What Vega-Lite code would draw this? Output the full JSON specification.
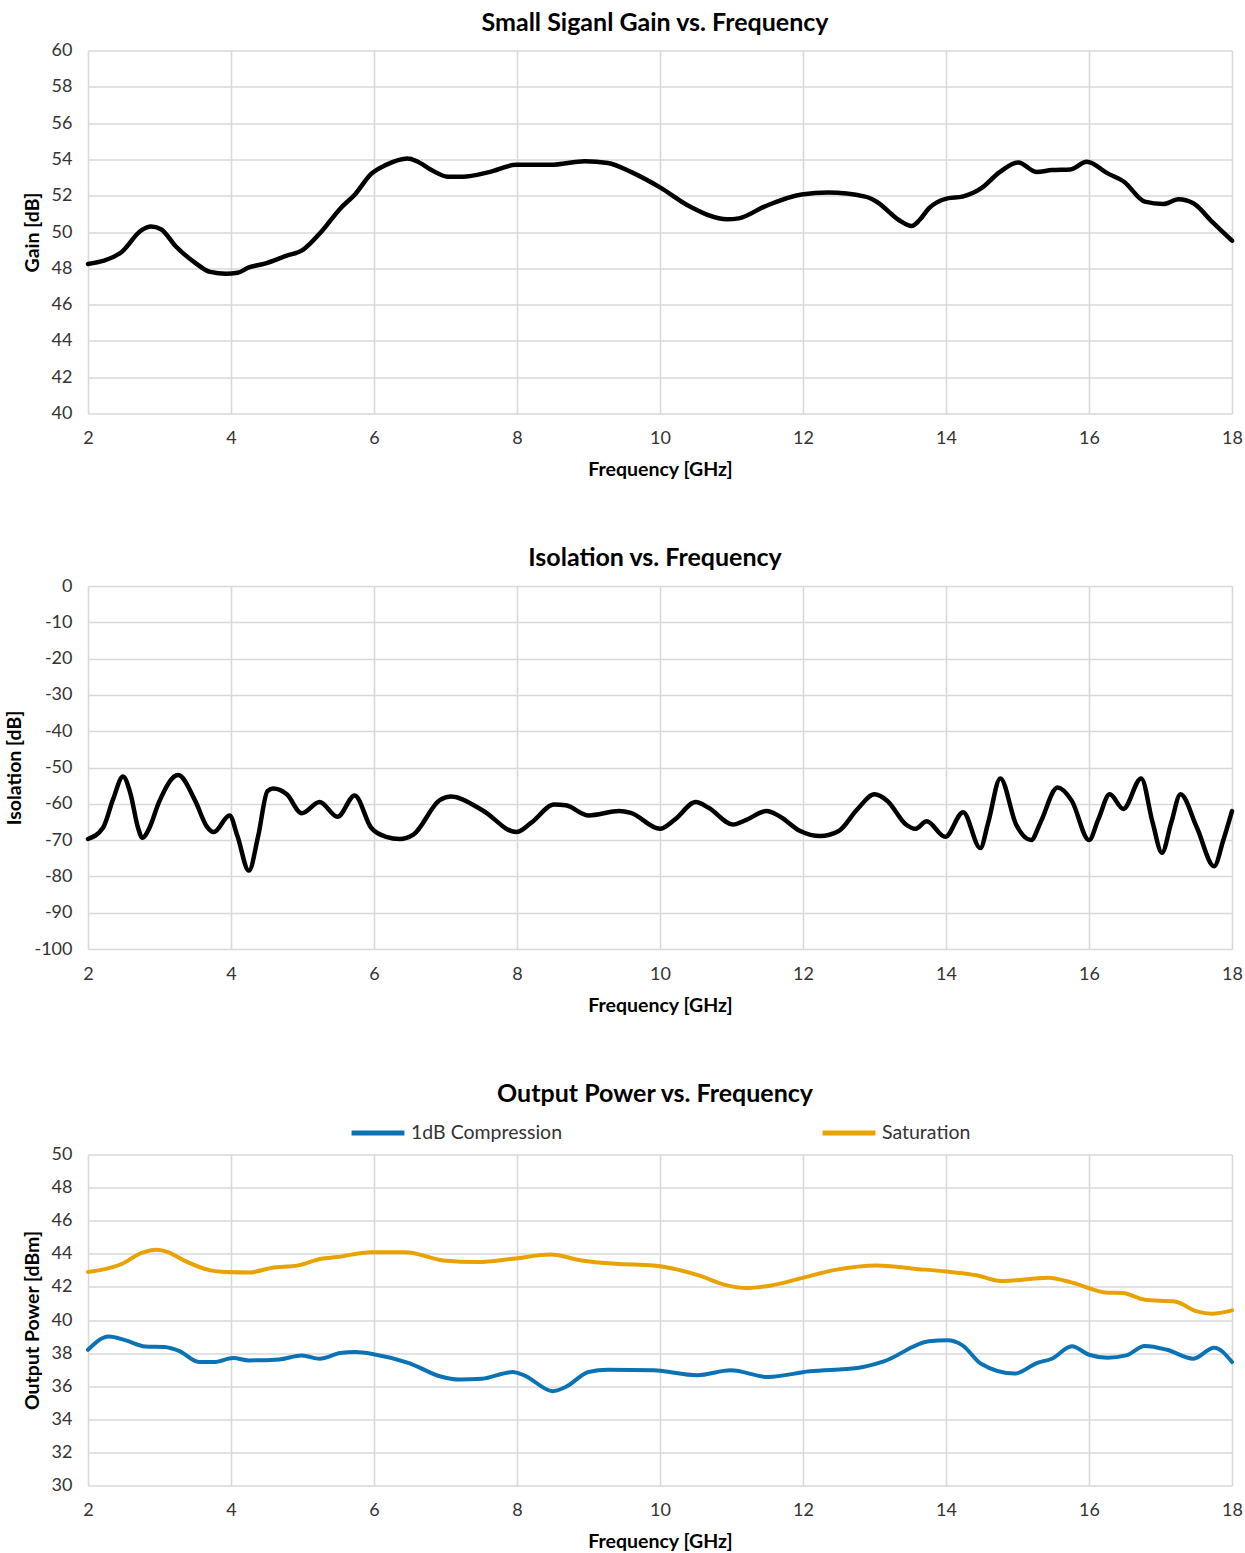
{
  "$schema": "https://vega.github.io/schema/vega-lite/v6.json",
  "background": "white",
  "padding": {"left": 4, "top": 10.5, "right": 10, "bottom": 8},
  "config": {
    "font": "Lato",
    "view": {"stroke": null},
    "axis": {
      "domain": false,
      "ticks": false,
      "grid": true,
      "gridColor": "#d9d9d9",
      "gridWidth": 1.6,
      "labelFont": "Lato",
      "labelFontSize": 18,
      "labelColor": "#333333",
      "labelFlush": false,
      "titleFont": "Lato",
      "titleFontSize": 19.5,
      "titleFontWeight": "bold",
      "titleColor": "#000000"
    },
    "axisX": {"labelPadding": 16, "titlePadding": 13},
    "axisY": {"labelPadding": 16, "titlePadding": 9},
    "title": {"font": "Lato", "fontSize": 25, "fontWeight": "bold", "color": "#000000", "frame": "group", "anchor": "middle", "offset": 6, "dx": -5},
    "concat": {"spacing": 66.5}
  },
  "resolve": {"legend": {"color": "independent"}},
  "datasets": {
    "gain": [
      {"f": 2.0, "v": 48.24}, {"f": 2.45, "v": 48.83}, {"f": 2.75, "v": 50.1}, {"f": 2.88, "v": 50.3},
      {"f": 3.02, "v": 50.15}, {"f": 3.23, "v": 49.2}, {"f": 3.5, "v": 48.3}, {"f": 3.71, "v": 47.8},
      {"f": 3.93, "v": 47.7}, {"f": 4.09, "v": 47.75}, {"f": 4.25, "v": 48.05}, {"f": 4.46, "v": 48.24},
      {"f": 4.78, "v": 48.7}, {"f": 5.0, "v": 49.0}, {"f": 5.26, "v": 50.0}, {"f": 5.53, "v": 51.3},
      {"f": 5.74, "v": 52.1}, {"f": 5.96, "v": 53.2}, {"f": 6.17, "v": 53.7}, {"f": 6.47, "v": 54.05},
      {"f": 6.6, "v": 53.9}, {"f": 6.81, "v": 53.4}, {"f": 7.03, "v": 53.05}, {"f": 7.24, "v": 53.05},
      {"f": 7.61, "v": 53.3}, {"f": 7.99, "v": 53.7}, {"f": 8.47, "v": 53.7}, {"f": 8.95, "v": 53.9},
      {"f": 9.27, "v": 53.8}, {"f": 9.6, "v": 53.3}, {"f": 10.0, "v": 52.46}, {"f": 10.42, "v": 51.4},
      {"f": 10.94, "v": 50.7}, {"f": 11.1, "v": 50.75}, {"f": 11.46, "v": 51.4}, {"f": 11.98, "v": 52.07},
      {"f": 12.35, "v": 52.17}, {"f": 12.87, "v": 51.95}, {"f": 13.03, "v": 51.67}, {"f": 13.34, "v": 50.66},
      {"f": 13.52, "v": 50.33}, {"f": 13.63, "v": 50.66}, {"f": 13.76, "v": 51.3}, {"f": 14.02, "v": 51.85},
      {"f": 14.23, "v": 51.95}, {"f": 14.49, "v": 52.4}, {"f": 14.75, "v": 53.3}, {"f": 15.01, "v": 53.83},
      {"f": 15.27, "v": 53.3}, {"f": 15.48, "v": 53.41}, {"f": 15.74, "v": 53.45}, {"f": 15.97, "v": 53.87},
      {"f": 16.26, "v": 53.23}, {"f": 16.49, "v": 52.77}, {"f": 16.78, "v": 51.67}, {"f": 17.04, "v": 51.54},
      {"f": 17.25, "v": 51.8}, {"f": 17.46, "v": 51.58}, {"f": 17.72, "v": 50.57}, {"f": 18.0, "v": 49.52}
    ],
    "isolation": [
      {"f": 2.0, "v": -69.7}, {"f": 2.21, "v": -66.6}, {"f": 2.35, "v": -58.8}, {"f": 2.49, "v": -52.5},
      {"f": 2.59, "v": -56.9}, {"f": 2.7, "v": -66.6}, {"f": 2.76, "v": -69.4}, {"f": 2.86, "v": -66.6},
      {"f": 2.99, "v": -59.7}, {"f": 3.26, "v": -52.1}, {"f": 3.5, "v": -59.2}, {"f": 3.66, "v": -66.2},
      {"f": 3.76, "v": -67.8}, {"f": 3.98, "v": -63.2}, {"f": 4.09, "v": -68.9}, {"f": 4.25, "v": -78.4},
      {"f": 4.38, "v": -68.9}, {"f": 4.51, "v": -56.5}, {"f": 4.59, "v": -55.8}, {"f": 4.78, "v": -57.4},
      {"f": 4.99, "v": -62.6}, {"f": 5.24, "v": -59.5}, {"f": 5.49, "v": -63.6}, {"f": 5.73, "v": -57.7},
      {"f": 5.96, "v": -66.6}, {"f": 6.17, "v": -69.1}, {"f": 6.36, "v": -69.7}, {"f": 6.55, "v": -68.5},
      {"f": 6.92, "v": -59.0}, {"f": 7.08, "v": -58.0}, {"f": 7.51, "v": -61.7}, {"f": 7.99, "v": -67.8},
      {"f": 8.2, "v": -65.2}, {"f": 8.52, "v": -60.2}, {"f": 8.68, "v": -60.4}, {"f": 9.0, "v": -63.2},
      {"f": 9.43, "v": -62.0}, {"f": 9.59, "v": -62.5}, {"f": 10.0, "v": -66.9}, {"f": 10.21, "v": -64.3},
      {"f": 10.5, "v": -59.5}, {"f": 10.68, "v": -61.1}, {"f": 11.02, "v": -65.7}, {"f": 11.2, "v": -64.5},
      {"f": 11.49, "v": -62.0}, {"f": 11.67, "v": -63.4}, {"f": 11.96, "v": -67.5}, {"f": 12.24, "v": -68.9},
      {"f": 12.5, "v": -67.5}, {"f": 12.76, "v": -61.5}, {"f": 13.0, "v": -57.4}, {"f": 13.18, "v": -59.2},
      {"f": 13.44, "v": -65.7}, {"f": 13.57, "v": -66.9}, {"f": 13.73, "v": -64.8}, {"f": 13.99, "v": -69.1},
      {"f": 14.24, "v": -62.3}, {"f": 14.48, "v": -72.2}, {"f": 14.59, "v": -65.2}, {"f": 14.76, "v": -53.0},
      {"f": 14.98, "v": -65.7}, {"f": 15.19, "v": -70.0}, {"f": 15.32, "v": -65.2}, {"f": 15.56, "v": -55.5},
      {"f": 15.76, "v": -59.2}, {"f": 16.0, "v": -70.0}, {"f": 16.13, "v": -64.3}, {"f": 16.29, "v": -57.4},
      {"f": 16.48, "v": -61.4}, {"f": 16.73, "v": -53.0}, {"f": 16.89, "v": -65.2}, {"f": 17.02, "v": -73.5},
      {"f": 17.15, "v": -65.2}, {"f": 17.28, "v": -57.4}, {"f": 17.51, "v": -66.6}, {"f": 17.75, "v": -77.2},
      {"f": 17.88, "v": -69.9}, {"f": 18.0, "v": -62.0}
    ],
    "power": [
      {"series": "1dB Compression", "f": 2.0, "v": 38.2}, {"series": "1dB Compression", "f": 2.29, "v": 39.0},
      {"series": "1dB Compression", "f": 2.53, "v": 38.77}, {"series": "1dB Compression", "f": 2.8, "v": 38.4},
      {"series": "1dB Compression", "f": 3.07, "v": 38.37}, {"series": "1dB Compression", "f": 3.28, "v": 38.12},
      {"series": "1dB Compression", "f": 3.55, "v": 37.46}, {"series": "1dB Compression", "f": 3.76, "v": 37.46},
      {"series": "1dB Compression", "f": 4.03, "v": 37.7}, {"series": "1dB Compression", "f": 4.25, "v": 37.56},
      {"series": "1dB Compression", "f": 4.67, "v": 37.62}, {"series": "1dB Compression", "f": 4.99, "v": 37.86},
      {"series": "1dB Compression", "f": 5.24, "v": 37.66}, {"series": "1dB Compression", "f": 5.53, "v": 38.0},
      {"series": "1dB Compression", "f": 5.74, "v": 38.06}, {"series": "1dB Compression", "f": 6.01, "v": 37.92},
      {"series": "1dB Compression", "f": 6.49, "v": 37.4}, {"series": "1dB Compression", "f": 6.92, "v": 36.6},
      {"series": "1dB Compression", "f": 7.19, "v": 36.4}, {"series": "1dB Compression", "f": 7.51, "v": 36.45},
      {"series": "1dB Compression", "f": 7.94, "v": 36.86}, {"series": "1dB Compression", "f": 8.1, "v": 36.66},
      {"series": "1dB Compression", "f": 8.5, "v": 35.7}, {"series": "1dB Compression", "f": 8.68, "v": 35.95},
      {"series": "1dB Compression", "f": 9.0, "v": 36.86}, {"series": "1dB Compression", "f": 9.27, "v": 37.0},
      {"series": "1dB Compression", "f": 9.91, "v": 36.96}, {"series": "1dB Compression", "f": 10.52, "v": 36.66},
      {"series": "1dB Compression", "f": 10.99, "v": 36.96}, {"series": "1dB Compression", "f": 11.51, "v": 36.56},
      {"series": "1dB Compression", "f": 12.09, "v": 36.9}, {"series": "1dB Compression", "f": 12.76, "v": 37.1},
      {"series": "1dB Compression", "f": 13.13, "v": 37.5}, {"series": "1dB Compression", "f": 13.76, "v": 38.71},
      {"series": "1dB Compression", "f": 14.02, "v": 38.77}, {"series": "1dB Compression", "f": 14.23, "v": 38.47},
      {"series": "1dB Compression", "f": 14.49, "v": 37.36}, {"series": "1dB Compression", "f": 14.96, "v": 36.76},
      {"series": "1dB Compression", "f": 15.27, "v": 37.4}, {"series": "1dB Compression", "f": 15.48, "v": 37.66},
      {"series": "1dB Compression", "f": 15.76, "v": 38.41}, {"series": "1dB Compression", "f": 16.0, "v": 37.9},
      {"series": "1dB Compression", "f": 16.26, "v": 37.72}, {"series": "1dB Compression", "f": 16.52, "v": 37.86},
      {"series": "1dB Compression", "f": 16.78, "v": 38.43}, {"series": "1dB Compression", "f": 17.09, "v": 38.2},
      {"series": "1dB Compression", "f": 17.46, "v": 37.66}, {"series": "1dB Compression", "f": 17.75, "v": 38.33},
      {"series": "1dB Compression", "f": 18.0, "v": 37.46},
      {"series": "Saturation", "f": 2.0, "v": 42.9}, {"series": "Saturation", "f": 2.48, "v": 43.4},
      {"series": "Saturation", "f": 2.75, "v": 44.05}, {"series": "Saturation", "f": 2.96, "v": 44.25},
      {"series": "Saturation", "f": 3.12, "v": 44.1}, {"series": "Saturation", "f": 3.34, "v": 43.6},
      {"series": "Saturation", "f": 3.71, "v": 43.0}, {"series": "Saturation", "f": 3.93, "v": 42.9},
      {"series": "Saturation", "f": 4.25, "v": 42.87}, {"series": "Saturation", "f": 4.57, "v": 43.15},
      {"series": "Saturation", "f": 4.94, "v": 43.3}, {"series": "Saturation", "f": 5.26, "v": 43.7},
      {"series": "Saturation", "f": 5.48, "v": 43.8}, {"series": "Saturation", "f": 5.96, "v": 44.1},
      {"series": "Saturation", "f": 6.44, "v": 44.1}, {"series": "Saturation", "f": 6.97, "v": 43.6},
      {"series": "Saturation", "f": 7.45, "v": 43.5}, {"series": "Saturation", "f": 7.94, "v": 43.7},
      {"series": "Saturation", "f": 8.47, "v": 43.96}, {"series": "Saturation", "f": 8.9, "v": 43.6},
      {"series": "Saturation", "f": 9.38, "v": 43.4}, {"series": "Saturation", "f": 9.91, "v": 43.3},
      {"series": "Saturation", "f": 10.52, "v": 42.73}, {"series": "Saturation", "f": 10.94, "v": 42.09},
      {"series": "Saturation", "f": 11.2, "v": 41.93}, {"series": "Saturation", "f": 11.56, "v": 42.09},
      {"series": "Saturation", "f": 11.98, "v": 42.53}, {"series": "Saturation", "f": 12.45, "v": 43.03},
      {"series": "Saturation", "f": 13.03, "v": 43.3}, {"series": "Saturation", "f": 13.55, "v": 43.1},
      {"series": "Saturation", "f": 14.0, "v": 42.93}, {"series": "Saturation", "f": 14.43, "v": 42.7},
      {"series": "Saturation", "f": 14.77, "v": 42.35}, {"series": "Saturation", "f": 15.43, "v": 42.55},
      {"series": "Saturation", "f": 15.74, "v": 42.29}, {"series": "Saturation", "f": 16.26, "v": 41.65},
      {"series": "Saturation", "f": 16.47, "v": 41.63}, {"series": "Saturation", "f": 16.78, "v": 41.22},
      {"series": "Saturation", "f": 17.2, "v": 41.12}, {"series": "Saturation", "f": 17.51, "v": 40.52},
      {"series": "Saturation", "f": 17.72, "v": 40.38}, {"series": "Saturation", "f": 18.0, "v": 40.58}
    ]
  },
  "vconcat": [
    {
      "title": "Small Siganl Gain vs. Frequency",
      "width": 1144,
      "height": 363,
      "data": {"name": "gain"},
      "mark": {"type": "line", "interpolate": "monotone", "color": "#000000", "strokeWidth": 4.5, "strokeCap": "round", "strokeJoin": "round"},
      "encoding": {
        "x": {"field": "f", "type": "quantitative", "title": "Frequency [GHz]", "scale": {"domain": [2, 18], "nice": false}, "axis": {"values": [2, 4, 6, 8, 10, 12, 14, 16, 18]}},
        "y": {"field": "v", "type": "quantitative", "title": "Gain [dB]", "scale": {"domain": [40, 60], "nice": false, "zero": false}, "axis": {"values": [40, 42, 44, 46, 48, 50, 52, 54, 56, 58, 60]}}
      }
    },
    {
      "title": "Isolation vs. Frequency",
      "width": 1144,
      "height": 363,
      "data": {"name": "isolation"},
      "mark": {"type": "line", "interpolate": "monotone", "color": "#000000", "strokeWidth": 4.5, "strokeCap": "round", "strokeJoin": "round"},
      "encoding": {
        "x": {"field": "f", "type": "quantitative", "title": "Frequency [GHz]", "scale": {"domain": [2, 18], "nice": false}, "axis": {"values": [2, 4, 6, 8, 10, 12, 14, 16, 18]}},
        "y": {"field": "v", "type": "quantitative", "title": "Isolation [dB]", "scale": {"domain": [-100, 0], "nice": false}, "axis": {"values": [-100, -90, -80, -70, -60, -50, -40, -30, -20, -10, 0], "labelExpr": "'' + datum.value"}}
      }
    },
    {
      "title": {"text": "Output Power vs. Frequency", "offset": -3},
      "width": 1144,
      "height": 331,
      "data": {"name": "power"},
      "mark": {"type": "line", "interpolate": "monotone", "strokeWidth": 4, "strokeCap": "round", "strokeJoin": "round"},
      "encoding": {
        "x": {"field": "f", "type": "quantitative", "title": "Frequency [GHz]", "scale": {"domain": [2, 18], "nice": false}, "axis": {"values": [2, 4, 6, 8, 10, 12, 14, 16, 18]}},
        "y": {"field": "v", "type": "quantitative", "title": "Output Power [dBm]", "scale": {"domain": [30, 50], "nice": false, "zero": false}, "axis": {"values": [30, 32, 34, 36, 38, 40, 42, 44, 46, 48, 50]}},
        "color": {
          "field": "series",
          "type": "nominal",
          "scale": {"domain": ["1dB Compression", "Saturation"], "range": ["#0a72b5", "#e8a202"]},
          "legend": {
            "title": null,
            "orient": "none",
            "direction": "horizontal",
            "legendX": 261,
            "legendY": -50.5,
            "symbolType": "stroke",
            "symbolSize": 2800,
            "symbolStrokeWidth": 5,
            "labelFont": "Lato",
            "labelFontSize": 19.5,
            "labelColor": "#333333",
            "labelOffset": 4,
            "labelLimit": 300,
            "columnPadding": 249
          }
        }
      }
    }
  ]
}
